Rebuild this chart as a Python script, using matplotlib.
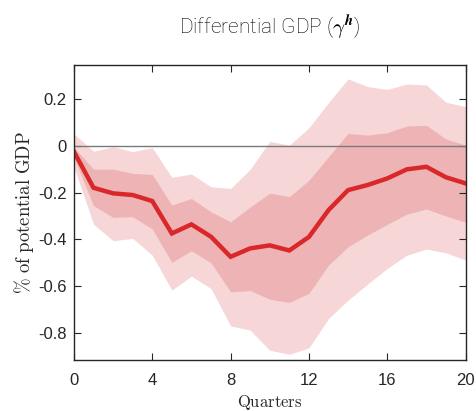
import numpy as np
import matplotlib.pyplot as plt

plt.rcParams['mathtext.fontset'] = 'cm'

# Impulse response of differential GDP, quarters 0..20
quarters = np.arange(0, 21)
median = [-0.024, -0.179, -0.203, -0.21, -0.236, -0.375, -0.336, -0.389, -0.475, -0.439, -0.426,
          -0.448, -0.39, -0.275, -0.189, -0.167, -0.139, -0.1, -0.089, -0.134, -0.16]
inner_hi = [-0.005, -0.099, -0.099, -0.117, -0.122, -0.253, -0.225, -0.282, -0.325, -0.262, -0.202,
            -0.217, -0.147, -0.046, 0.054, 0.047, 0.057, 0.086, 0.089, 0.03, 0.004]
inner_lo = [-0.05, -0.256, -0.306, -0.303, -0.356, -0.499, -0.449, -0.501, -0.625, -0.62, -0.657,
            -0.671, -0.632, -0.511, -0.432, -0.382, -0.336, -0.292, -0.27, -0.3, -0.327]
outer_hi = [0.052, -0.022, -0.003, -0.024, -0.007, -0.134, -0.12, -0.175, -0.182, -0.1, 0.02,
            0.004, 0.078, 0.186, 0.288, 0.255, 0.243, 0.266, 0.262, 0.188, 0.169]
outer_lo = [-0.09, -0.335, -0.406, -0.396, -0.468, -0.618, -0.558, -0.611, -0.771, -0.79, -0.876,
            -0.893, -0.866, -0.74, -0.661, -0.592, -0.525, -0.468, -0.442, -0.458, -0.489]

fig = plt.figure(figsize=(4.77, 4.11), dpi=100)
ax = fig.add_axes([0.155, 0.124, 0.821, 0.718])

ax.fill_between(quarters, outer_lo, outer_hi, color='#f6d6d7', lw=0)
ax.fill_between(quarters, inner_lo, inner_hi, color='#eeb4b5', lw=0)
ax.axhline(0, color='#7a7a7a', lw=1.0)
ax.plot(quarters, median, color='#d9272a', lw=3.2, solid_joinstyle='miter')

ax.set_xlim(0, 20)
ax.set_ylim(-0.918, 0.348)
ax.set_xticks([0, 4, 8, 12, 16, 20])
ax.set_yticks([-0.8, -0.6, -0.4, -0.2, 0, 0.2])
ax.set_yticklabels(['-0.8', '-0.6', '-0.4', '-0.2', '0', '0.2'])
ax.tick_params(direction='in', top=True, right=True, length=5, width=0.8,
               labelsize=12, colors='#262626', pad=5)
ax.tick_params(axis='x', pad=9)
for lab in ax.get_xticklabels() + ax.get_yticklabels():
    lab.set_fontfamily('Liberation Sans')
for sp in ax.spines.values():
    sp.set_color('#262626')
    sp.set_linewidth(1.0)

ax.set_xlabel(r'$\mathrm{Quarters}$', fontsize=12, color='#262626', labelpad=4)
ax.set_ylabel(r'$\%\ \mathrm{of\ potential\ GDP}$', fontsize=13.5, color='#262626', labelpad=2)
ax.set_title(r'Differential GDP ($\gamma^{\boldsymbol{h}}$)', fontsize=15, fontfamily='Roboto',
             fontweight='light', color='#000000', pad=22)

fig.savefig('out.png', dpi=100)
